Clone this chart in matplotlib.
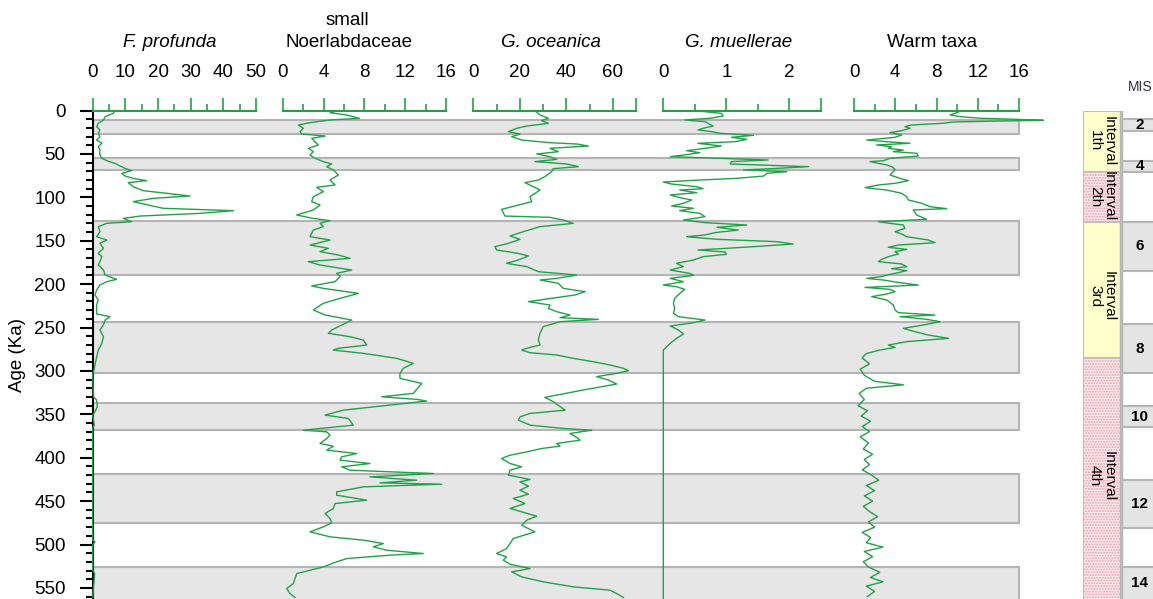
import matplotlib
matplotlib.use("Agg")
import matplotlib.pyplot as plt
from matplotlib.patches import Rectangle

plt.rcParams["font.family"] = ["Liberation Sans", "DejaVu Sans"]
plt.rcParams["hatch.linewidth"] = 1.0

# ---- data (age in ka, value in %) ----
fp_age = [0.2, 3.3, 7.1, 10.9, 14.8, 18.6, 22.5, 26.3, 30.1, 34.0, 37.8, 41.7, 45.5, 51.3, 55.1,
          57.8, 60.9, 63.9, 66.6, 69.3, 72.4, 75.5, 78.2, 80.8, 83.1, 87.8, 92.4, 95.4, 98.5, 101.2,
          105.0, 108.9, 112.7, 115.4, 118.5, 121.6, 124.3, 128.1, 130.0, 133.8, 139.6, 145.4, 149.2,
          153.0, 158.8, 164.6, 168.4, 174.2, 178.0, 183.8, 189.5, 194.5, 197.2, 201.1, 206.8, 212.5,
          218.3, 224.1, 229.8, 234.4, 237.5, 241.4, 247.1, 252.9, 260.6, 268.2, 276.0, 287.5, 299.0,
          302.8, 329.8, 333.6, 341.3, 347.1, 350.9, 362.5, 365.2, 495.0, 496.9, 500.8, 529.6, 533.5,
          561.0]
fp_val = [6.8, 6.3, 3.8, 3.3, 1.7, 1.2, 2.2, 1.7, 2.2, 1.2, 2.8, 1.7, 2.2, 2.2, 2.8,
          4.3, 6.8, 8.4, 9.9, 11.9, 8.9, 9.9, 12.4, 16.5, 10.9, 12.4, 15.5, 22.7, 29.8, 18.6,
          12.4, 17.0, 21.6, 43.1, 32.9, 14.5, 9.4, 11.9, 4.3, 1.7, 2.2, 1.2, 4.3,
          2.2, 3.3, 1.7, 2.8, 2.2, 1.7, 3.3, 3.8, 7.3, 4.3, 2.2, 1.2, 0.7,
          1.7, 1.2, 1.2, 1.2, 5.3, 3.8, 3.3, 2.2, 3.3, 2.8, 1.7, 1.0, 0.4,
          0.0, 0.2, 1.2, 1.4, 0.7, 0.0, 0.5, 0.0, 0.0, 0.7, 0.0, 0.0, 0.6,
          0.0]

nb_age = [0.2, 2.5, 5.2, 9.0, 10.9, 14.0, 16.7, 20.5, 24.4, 27.1, 29.4, 32.1, 35.9, 39.7, 43.6,
          47.4, 51.3, 55.1, 58.9, 61.6, 64.7, 68.5, 74.3, 80.1, 85.8, 88.5, 93.5, 99.3, 105.0, 108.9,
          114.6, 120.4, 124.3, 126.9, 130.0, 133.8, 137.7, 145.4, 149.2, 155.0, 158.8, 162.6, 166.5,
          170.3, 174.2, 178.0, 183.8, 187.6, 191.4, 197.2, 202.2, 204.9, 210.7, 216.4, 222.2, 229.8,
          235.6, 241.4, 247.1, 252.9, 256.7, 260.6, 264.4, 270.2, 274.0,
          276.0, 279.8, 285.5, 291.3, 297.0, 302.8, 308.6, 314.4, 325.9, 329.8, 332.8, 334.7, 339.4,
          345.2, 350.9, 354.8, 362.5, 365.2, 368.3, 370.2, 374.0, 377.9, 383.6, 386.7, 391.3, 395.2,
          399.0, 402.8, 406.7, 410.5, 414.4, 418.2, 422.1, 425.9, 429.0, 430.5, 433.6, 439.3, 443.2,
          448.9, 452.8, 458.5, 464.3, 470.1, 475.1, 479.7, 485.4, 491.2, 495.0, 498.9, 502.7, 506.6,
          510.4, 512.3, 516.2, 520.0, 525.8, 533.5, 539.2, 545.0, 550.7, 556.5, 561.1]
nb_val = [5.29, 4.64, 6.27, 7.51, 4.64, 2.68, 1.53, 2.02, 1.70, 1.86, 4.15, 2.84, 3.17, 3.49, 2.51,
          3.0, 2.68, 3.17, 3.98, 4.80, 4.31, 4.96, 5.45, 4.64, 5.13, 3.33, 3.98, 3.0, 2.84, 3.66,
          3.0, 1.37, 3.0, 4.64, 3.66, 3.98, 3.0, 2.68, 4.64, 2.68, 4.47, 3.66, 5.45,
          6.6, 2.51, 3.66, 6.76, 5.29, 5.62, 5.13, 2.84, 3.98, 7.41, 5.62, 3.98, 3.0,
          4.15, 6.76, 5.78, 4.8, 4.47, 6.6, 7.9, 8.23, 5.45,
          4.96, 7.9, 11.17, 12.8, 11.82, 11.49, 11.49, 13.62, 12.8, 9.7, 13.13, 14.1, 10.5,
          5.94, 4.15, 6.43, 6.92, 4.64, 2.02, 4.31, 4.64, 4.31, 3.66, 4.96, 4.31, 7.25,
          5.78, 5.62, 8.55, 5.78, 6.6, 14.76, 8.55, 13.13, 9.53, 15.58, 7.9, 5.29, 5.29,
          8.23, 5.13, 4.96, 4.15, 4.64, 4.8, 3.98, 2.68, 4.64, 7.9, 9.86, 8.88, 10.19,
          13.78, 10.51, 6.27, 5.29, 3.98, 1.37, 1.21, 1.04, 0.39, 0.72, 1.21]

go_age = [0.2, 5.2, 9.0, 11.7, 14.8, 17.9, 20.5, 24.4, 27.1, 30.1, 34.0, 37.1, 38.6, 40.9, 43.6,
          47.4, 50.1, 53.2, 56.3, 58.9, 61.6, 64.7, 67.0, 70.5, 76.2, 80.1, 83.1, 91.6, 99.3, 105.0,
          108.9, 113.9, 121.6, 123.1, 126.2, 130.0, 133.8, 139.6, 144.6, 148.4, 153.0, 156.9, 160.7,
          164.6, 167.6, 172.2, 176.1, 179.9, 185.7, 189.5, 193.4, 195.3, 199.1, 204.9, 208.7, 212.5,
          220.2, 224.1, 227.9, 231.8, 235.6, 238.7, 240.6, 243.3, 249.0, 256.7, 264.4, 270.2, 274.0,
          276.0, 279.0, 281.7, 285.5, 289.4, 293.2, 297.0, 299.7, 302.8, 306.6, 310.5, 315.1, 322.0,
          330.5, 335.5, 345.2, 349.0, 352.9, 356.7, 362.5, 366.3, 368.3, 372.1, 376.7, 379.8, 383.6,
          386.7, 389.4, 393.3, 397.1, 400.9, 406.7, 410.5, 414.4, 420.1, 425.1, 427.8, 432.8, 437.4,
          442.0, 447.0, 452.8, 458.5, 462.4, 467.4, 472.0, 477.8, 485.4, 493.1, 498.9, 504.6, 510.4,
          514.2, 518.1, 522.7, 527.7, 531.5, 537.3, 543.0, 548.8, 552.6, 556.5, 561.1]
go_val = [26.5, 28.7, 32.3, 29.4, 32.3, 23.0, 18.7, 15.1, 20.1, 16.5, 20.8, 33.0, 44.5, 49.5, 33.0,
          36.6, 27.3, 33.0, 35.9, 26.5, 40.2, 45.2, 34.4, 33.7, 30.8, 28.0, 22.2, 28.7, 24.4, 25.1,
          19.4, 12.2, 13.6, 33.0, 38.7, 43.0, 28.7, 21.5, 15.8, 20.1, 15.1, 9.3, 10.0,
          19.4, 23.7, 19.4, 14.3, 23.0, 28.0, 44.5, 35.9, 28.7, 36.6, 38.7, 48.1, 43.8,
          23.7, 33.0, 32.3, 35.9, 41.6, 37.3, 53.8, 37.3, 30.1, 28.7, 28.0, 28.7, 23.0,
          20.8, 24.4, 35.9, 43.0, 51.6, 58.8, 64.6, 66.7, 61.7, 53.1, 58.1, 61.7, 47.3,
          30.8, 34.4, 39.5, 24.4, 20.1, 19.4, 24.4, 38.7, 50.9, 41.6, 44.5, 45.9, 35.9,
          37.3, 29.4, 23.0, 15.8, 12.2, 15.8, 20.8, 15.8, 15.1, 24.4, 20.1, 23.7, 20.1,
          23.7, 17.2, 22.2, 15.8, 20.8, 27.3, 23.0, 20.8, 26.5, 17.2, 15.8, 14.3, 10.0,
          14.3, 12.9, 15.8, 24.4, 16.5, 20.8, 30.1, 43.0, 58.8, 61.7, 64.6]

gm_age = [0.2, 1.3, 3.3, 6.3, 9.0, 10.9, 12.9, 14.8, 17.9, 20.5,
          22.5, 24.4, 26.3, 28.6, 30.9, 33.2, 35.9, 37.8, 40.9, 43.6,
          46.3, 48.6, 51.3, 53.2, 55.1, 57.0, 58.9, 61.6, 64.7, 67.0,
          68.5, 70.5, 72.4, 75.5, 78.2, 80.1, 82.4, 84.7, 87.8, 90.1,
          91.6, 94.7, 97.3, 100.0, 103.1, 106.9, 110.0, 112.7, 115.4, 118.5,
          122.3, 126.2, 129.2, 131.9, 134.6, 137.7, 140.7, 143.4, 145.4, 148.4,
          151.1, 153.8, 156.9, 160.7, 163.0, 165.7, 168.4, 172.2, 176.1, 179.9,
          183.8, 187.6, 189.9, 193.4, 197.2, 201.1, 203.0, 206.1, 210.7, 216.4,
          222.2, 227.9, 233.7, 237.5, 241.4, 244.4, 248.3, 252.9, 257.5, 262.5,
          268.2, 274.0, 276.0, 562.0]
gm_val = [0.42, 0.66, 0.92, 0.95, 0.74, 0.34, 0.66, 0.71, 0.79, 0.63,
          0.55, 0.77, 0.90, 1.43, 1.08, 1.32, 1.14, 0.55, 0.92, 0.66,
          0.37, 0.58, 0.32, 0.11, 0.90, 1.66, 1.08, 1.06, 2.30, 1.72,
          1.27, 1.96, 1.64, 1.59, 1.16, 0.58, 0.0, 0.13, 0.53, 0.63,
          0.26, 0.53, 0.11, 0.24, 0.45, 0.32, 0.13, 0.48, 0.26, 0.58,
          0.66, 0.32, 0.66, 1.32, 0.85, 1.19, 0.82, 0.66, 0.37, 0.85,
          1.80, 2.06, 1.43, 0.55, 0.98, 1.00, 0.63, 0.48, 0.21, 0.32,
          0.11, 0.42, 0.48, 0.11, 0.32, 0.0, 0.21, 0.34, 0.26, 0.18,
          0.16, 0.18, 0.16, 0.24, 0.66, 0.48, 0.11, 0.24, 0.32, 0.21,
          0.11, 0.03, 0.0, 0.0]

wt_age = [0.2, 3.3, 5.2, 7.1, 9.0, 10.2, 11.3, 12.1, 13.2, 14.8,
          16.7, 18.6, 20.5, 23.2, 25.5, 28.2, 30.9, 34.0, 35.9, 37.8,
          39.7, 41.7, 43.6, 45.5, 47.4, 49.3, 52.4, 55.1, 57.8, 58.9,
          62.8, 64.7, 67.8, 70.5, 74.3, 78.2, 80.8, 83.9, 85.8, 88.9,
          91.6, 95.4, 99.3, 103.1, 106.9, 110.8, 113.1, 114.6, 120.4, 125.4,
          128.1, 130.0, 131.9, 135.8, 139.6, 142.3, 145.4, 149.2, 152.3, 155.0,
          157.6, 160.0, 162.6, 165.3, 168.4, 171.5, 174.2, 176.8, 179.9, 182.2,
          184.5, 186.8, 189.5, 191.4, 193.4, 195.3, 198.4, 201.1, 203.8, 206.1,
          208.7, 211.4, 214.5, 218.3, 224.1, 229.8, 232.9, 235.6, 237.5, 240.6,
          243.3, 247.1, 251.0, 254.8, 258.7, 262.5, 266.3, 270.2, 272.9,
          276, 280, 285, 292, 298, 305, 312, 316, 320, 326, 333, 340, 346, 352, 358, 364, 370,
          376, 383, 390, 396, 402, 408, 414, 420, 426, 432, 438, 444, 450, 456, 462, 468, 474,
          480, 486, 492, 498, 503, 508, 514, 520, 526, 532, 538, 543, 548, 554, 560]
wt_val = [10.44, 9.79, 9.31, 10.28, 12.38, 15.77, 18.36, 14.16, 9.63, 8.50,
          5.59, 4.94, 5.43, 4.62, 3.49, 4.62, 3.98, 1.23, 3.17, 5.43,
          2.20, 3.65, 3.33, 4.78, 3.81, 6.08, 6.24, 3.49, 2.84, 1.55,
          3.17, 3.65, 3.98, 3.81, 3.49, 4.46, 5.27, 3.98, 2.36, 1.07,
          3.17, 4.62, 5.11, 5.27, 6.56, 7.37, 8.99, 5.75, 6.08, 7.05,
          2.36, 3.49, 4.78, 4.94, 3.98, 4.62, 5.11, 7.21, 7.85, 4.30,
          3.33, 5.11, 3.98, 4.30, 3.33, 2.68, 2.36, 4.62, 5.11, 3.65,
          5.11, 4.30, 3.17, 2.68, 1.23, 2.84, 4.46, 6.24, 1.07, 3.49,
          3.98, 3.17, 1.71, 3.17, 3.81, 3.98, 4.30, 7.85, 4.46, 7.05,
          8.34, 6.72, 4.78, 5.91, 7.21, 9.15, 5.11, 3.33, 3.98,
          2.5, 1.2, 0.8, 1.5, 0.6, 1.0, 2.0, 4.8, 1.2, 0.5, 1.0, 0.4, 1.3, 0.7, 1.6, 0.8, 1.5,
          0.6, 1.4, 0.9, 1.8, 1.0, 1.5, 0.8, 1.7, 2.4, 1.2, 2.0, 1.0, 1.8, 0.9, 1.5, 2.3, 1.4,
          2.0, 0.8, 1.6, 1.2, 2.8, 1.0, 1.8, 0.9, 1.4, 2.5, 1.6, 2.8, 1.2, 2.0, 1.3]

# shaded glacial bands (ka)
band_top = [11, 55, 127, 244, 337, 419, 526]
band_bottom = [27.5, 68, 189, 302, 368, 475, 575]

# right-hand columns
interval_labels = ["Interval\n1th", "Interval\n2th", "Interval\n3rd", "Interval\n4th"]
interval_top = [0, 70.5, 128.1, 285.5]
interval_bottom = [70.5, 128.1, 285.5, 575]
interval_dotted = [False, True, False, True]
interval_text_age = [35, 99, 214, 421]

mis_labels = ["2", "4", "6", "8", "10", "12", "14"]
mis_top = [9.8, 57.8, 128.1, 246.0, 340.1, 425.7, 525.6]
mis_bottom = [23.6, 70.5, 184.9, 302.8, 365.0, 481.0, 575]

W, H = 1153, 599
GREEN = "#22a248"
AX_TOP = 110.5          # pixel row of 0 ka
PX_PER_KA = 0.868
AGE_MAX = (H - AX_TOP) / PX_PER_KA
FS = 13.5


def fx(px):
    return px / W


def fy(py):
    return 1 - py / H


fig = plt.figure(figsize=(W / 100, H / 100), dpi=100)
ax_h = (H - AX_TOP) / H

# background bands across all panels
bg = fig.add_axes([fx(92.7), 0, fx(1019 - 92.7), ax_h])
bg.set_xlim(0, 1)
bg.set_ylim(AGE_MAX, 0)
bg.axis("off")
for a, b in zip(band_top, band_bottom):
    bg.add_patch(Rectangle((0, a), 1, b - a, facecolor="#e6e6e6", edgecolor="#b4b4b4",
                           lw=1.5, clip_on=False))

panels = [
    # left px, right px, xmax, major ticks, labels, minor ticks, data
    (92.7, 256.0, 50, [0, 10, 20, 30, 40, 50], None, [5, 15, 25, 35, 45], fp_val, fp_age),
    (282.7, 446.0, 16, [0, 4, 8, 12, 16], None, [2, 6, 10, 14], nb_val, nb_age),
    (473.3, 636.0, 70, [0, 20, 40, 60, 70], ["0", "20", "40", "60", ""], [10, 30, 50], go_val, go_age),
    (663.3, 821.0, 2.5, [0, 1, 2, 2.5], ["0", "1", "2", ""], [0.5, 1.5], gm_val, gm_age),
    (854.0, 1019.0, 16, [0, 4, 8, 12, 16], None, [2, 6, 10, 14], wt_val, wt_age),
]

for i, (l, r, xmax, major, labels, minor, vals, ages) in enumerate(panels):
    ax = fig.add_axes([fx(l), 0, fx(r - l), ax_h])
    ax.patch.set_alpha(0)
    ax.set_xlim(0, xmax)
    ax.set_ylim(AGE_MAX, 0)
    # values stay inside their scale except the warm-taxa spike, which runs past it
    ax.plot(vals, ages, color=GREEN, lw=1.0, clip_on=False, zorder=3)
    for s in ["right", "bottom"]:
        ax.spines[s].set_visible(False)
    ax.spines["top"].set_color(GREEN)
    ax.spines["top"].set_linewidth(1.5)
    ax.xaxis.tick_top()
    if labels is None:
        labels = [str(m) for m in major]
    ax.set_xticks(major, labels)
    ax.set_xticks(minor, minor=True)
    ax.tick_params(axis="x", which="major", length=9.5, width=1.2, color=GREEN,
                   labelsize=FS, pad=12)
    ax.tick_params(axis="x", which="minor", length=5, width=1.2, color=GREEN)
    if i == 0:
        ax.spines["left"].set_color("black")
        ax.spines["left"].set_linewidth(1.5)
        ax.set_yticks(range(0, 551, 50))
        ax.set_yticks(range(0, 561, 10), minor=True)
        ax.tick_params(axis="y", which="major", length=9.5, width=1.5, labelsize=FS, pad=10)
        ax.tick_params(axis="y", which="minor", length=5, width=1.5)
    else:
        ax.spines["left"].set_visible(False)
        ax.set_yticks([])

fig.text(fx(18), fy(355), "Age (Ka)", rotation=90, ha="center", va="center", fontsize=FS)

title_y = fy(42.7)
fig.text(fx(169.5), title_y, "F. profunda", style="italic", ha="center", va="center", fontsize=FS)
fig.text(fx(347), fy(20.7), "small", ha="center", va="center", fontsize=FS)
fig.text(fx(349), title_y, "Noerlabdaceae", ha="center", va="center", fontsize=FS)
fig.text(fx(551), title_y, "G. oceanica", style="italic", ha="center", va="center", fontsize=FS)
fig.text(fx(739), title_y, "G. muellerae", style="italic", ha="center", va="center", fontsize=FS)
fig.text(fx(932.5), title_y, "Warm taxa", ha="center", va="center", fontsize=FS)

# interval / MIS column
rc = fig.add_axes([fx(1083), 0, fx(W - 1083), ax_h])
rc.set_xlim(0, W - 1083)
rc.set_ylim(AGE_MAX, 0)
rc.axis("off")
for lab, a, b, dotted, ta in zip(interval_labels, interval_top, interval_bottom,
                                 interval_dotted, interval_text_age):
    if dotted:
        rc.add_patch(Rectangle((0, a), 38, b - a, facecolor="#fff0ea", lw=0))
        rc.add_patch(Rectangle((0, a), 38, b - a, facecolor="none", edgecolor="#ee98b8",
                               hatch="......", lw=0))
    else:
        rc.add_patch(Rectangle((0, a), 38, b - a, facecolor="#ffffcc", lw=0))
    rc.add_patch(Rectangle((0, a), 38, b - a, facecolor="none", edgecolor="#c0c0c0", lw=1.5))
    rc.text(19, ta, lab, rotation=270, ha="center", va="center", fontsize=11, linespacing=1.0)

for lab, a, b in zip(mis_labels, mis_top, mis_bottom):
    rc.add_patch(Rectangle((38, a), 40, b - a, facecolor="#e4e4e4", edgecolor="#b5b5b5", lw=1.5))
    rc.text(57, (a + min(b, AGE_MAX)) / 2, lab, ha="center", va="center", fontsize=11,
            fontweight="bold")
rc.axvline(38, color="#b8b8b8", lw=2.5)

fig.text(fx(1140), fy(87), "MIS", ha="center", va="center", fontsize=10, color="#333340")

fig.savefig("out.png", dpi=100)
